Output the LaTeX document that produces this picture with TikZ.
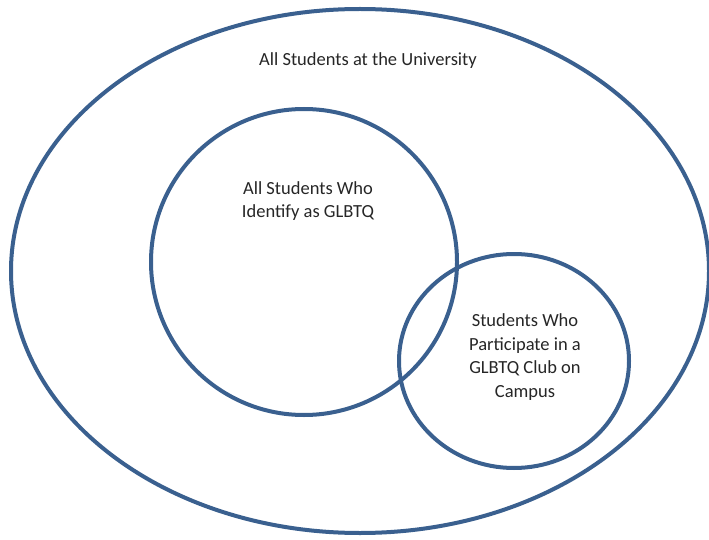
\documentclass[tikz,border=0pt]{standalone}
\usepackage{fontspec}
\setmainfont{Carlito}
\usepackage{tikz}

\definecolor{setblue}{RGB}{58,96,143}

\begin{document}
\begin{tikzpicture}[x=1pt, y=-1pt]
    \useasboundingbox (0, 0) rectangle (709, 540);

    % the three sets
    \draw[setblue, line width=4pt] (360, 271) ellipse [x radius=349pt, y radius=262pt];
    \draw[setblue, line width=4pt] (304, 262) circle [radius=153pt];
    \draw[setblue, line width=4pt] (514, 361) ellipse [x radius=115pt, y radius=107pt];

    \node[font=\fontsize{18.5}{23.5}\selectfont, text=black!85] (univ) at (368, 61)
        {All Students at the University};
    \node[font=\fontsize{18.5}{23.5}\selectfont, text=black!85, align=center] (glbtq) at (308, 201)
        {All Students Who\\Identify as GLBTQ};
    \node[font=\fontsize{18.5}{23.5}\selectfont, text=black!85, align=center] (club) at (525, 357)
        {Students Who\\Participate in a\\GLBTQ Club on\\Campus};
\end{tikzpicture}
\end{document}
